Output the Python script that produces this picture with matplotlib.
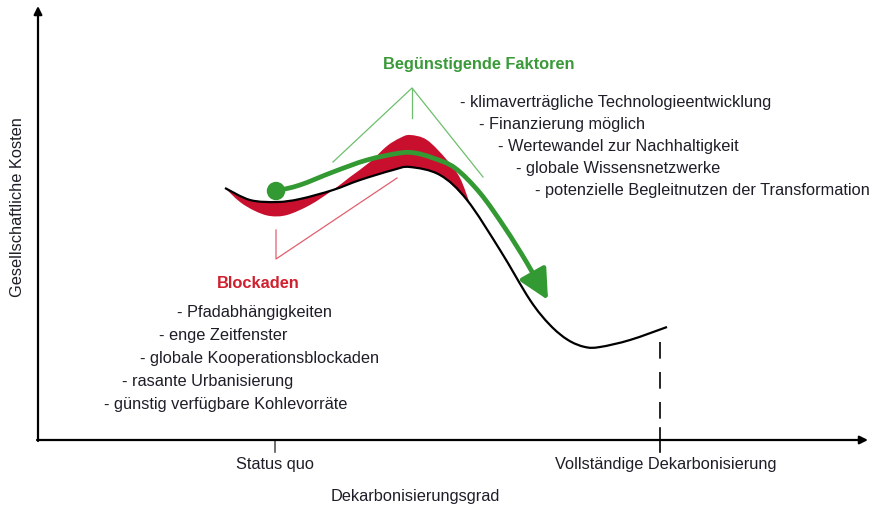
import matplotlib.pyplot as plt
import numpy as np
from matplotlib.path import Path
from matplotlib.patches import PathPatch, FancyArrowPatch, Circle

plt.rcParams["font.family"] = ["Liberation Sans", "DejaVu Sans"]

# schematic drawn in picture units (x to the right, y downwards)
origin = (38, 440)
x_end = 868
y_top = 6

# cost curve (black)
cost_x = [225, 250, 277, 300, 333, 360, 393, 410, 440, 467, 500, 530, 550, 568, 585, 600, 630, 667]
cost_y = [188, 200, 202, 199, 190, 180, 170, 167, 175, 200, 250, 300, 325, 340, 347, 347, 340, 327]

# outline of the red band (blockades below, bump above)
band_x = [225, 240, 255, 270, 287, 310, 333, 350, 370, 387, 400, 410, 427, 447, 460, 470]
band_y = [188, 202, 211, 216, 215, 205, 190, 177, 162, 146, 138, 135, 140, 160, 178, 204]

# green path
path_x = [276, 300, 333, 367, 400, 415, 433, 455, 480, 505, 527, 548]
path_y = [191, 185, 172, 160, 153, 153, 158, 168, 193, 228, 263, 300]

right_items = ["- klimaverträgliche Technologieentwicklung",
               "- Finanzierung möglich",
               "- Wertewandel zur Nachhaltigkeit",
               "- globale Wissensnetzwerke",
               "- potenzielle Begleitnutzen der Transformation"]
left_items = ["- Pfadabhängigkeiten",
              "- enge Zeitfenster",
              "- globale Kooperationsblockaden",
              "- rasante Urbanisierung",
              "- günstig verfügbare Kohlevorräte"]

status_quo_x = 275
full_decarb_x = 660


def bezier(xs, ys, first=Path.MOVETO):
    # smooth curve through the points (catmull-rom as cubic bezier)
    p = np.column_stack([xs, ys]).astype(float)
    verts, codes = [p[0]], [first]
    for i in range(len(p) - 1):
        p0 = p[i - 1] if i > 0 else p[i]
        p3 = p[i + 2] if i + 2 < len(p) else p[i + 1]
        verts += [p[i] + (p[i + 1] - p0) / 6, p[i + 1] - (p3 - p[i]) / 6, p[i + 1]]
        codes += [Path.CURVE4] * 3
    return verts, codes


fig = plt.figure(figsize=(8.72, 5.07), dpi=100)
ax = fig.add_axes([0, 0, 1, 1])
ax.set_xlim(0, 872)
ax.set_ylim(507, 0)
ax.axis("off")

# axes with arrows
ax.annotate("", xy=(x_end, origin[1]), xytext=(origin[0] - 1, origin[1]),
            arrowprops=dict(arrowstyle="-|>", lw=1.6, color="black", mutation_scale=12, shrinkA=0, shrinkB=0))
ax.annotate("", xy=(origin[0], y_top), xytext=(origin[0], origin[1] + 1),
            arrowprops=dict(arrowstyle="-|>", lw=1.6, color="black", mutation_scale=12, shrinkA=0, shrinkB=0))

# ticks
ax.plot([status_quo_x, status_quo_x], [origin[1], 452], color="#555555", lw=1.2)
ax.plot([full_decarb_x, full_decarb_x], [428, 452], color="black", lw=1.2)
ax.plot([full_decarb_x, full_decarb_x], [342, 428], color="black", lw=1.2, dashes=(10, 8))

# red band
v1, c1 = bezier(band_x, band_y)
n_sub = cost_x.index(467) + 1
v2, c2 = bezier(cost_x[:n_sub][::-1], cost_y[:n_sub][::-1], first=Path.LINETO)
band = Path(v1 + v2 + [v1[0]], c1 + c2 + [Path.CLOSEPOLY])
ax.add_patch(PathPatch(band, facecolor="#c8102e", edgecolor="none", zorder=2))

# black cost curve
v, c = bezier(cost_x, cost_y)
ax.add_patch(PathPatch(Path(v, c), facecolor="none", edgecolor="black", lw=1.6, zorder=3))

# green arrow
v, c = bezier(path_x, path_y)
ax.add_patch(FancyArrowPatch(path=Path(v, c), arrowstyle="-|>,head_length=0.9,head_width=0.45",
                             mutation_scale=20, color="#339933", lw=3.4, zorder=4))
ax.add_patch(Circle((path_x[0], path_y[0]), 8.5, color="#339933", zorder=5))

# connector lines
ax.plot([333, 412, 483], [162, 88, 177], color="#6cbf6c", lw=0.9, zorder=1)
ax.plot([412, 412], [88, 118], color="#6cbf6c", lw=0.9, zorder=1)
ax.plot([276, 276, 397], [230, 259, 178], color="#e0606e", lw=0.9, zorder=1)

# texts
fs = 11.8
txt = dict(fontsize=fs, color="#1e1e28", va="center")
ax.text(479, 65, "Begünstigende Faktoren", fontsize=fs, fontweight="bold", color="#3a9a3a",
        ha="center", va="center")
for i, s in enumerate(right_items):
    ax.text(460 + 18.8 * i, 103 + 22 * i, s, ha="left", **txt)

ax.text(258, 283, "Blockaden", fontsize=fs, fontweight="bold", color="#d0202e", ha="center", va="center")
for i, s in enumerate(left_items):
    ax.text(177 - 18.3 * i, 313 + 22.8 * i, s, ha="left", **txt)

ax.text(status_quo_x, 465, "Status quo", ha="center", **txt)
ax.text(666, 465, "Vollständige Dekarbonisierung", ha="center", **txt)
ax.text(415, 497, "Dekarbonisierungsgrad", ha="center", **txt)
ax.text(17, 207, "Gesellschaftliche Kosten", rotation=90, ha="center", **txt)

fig.savefig("out.png", dpi=100)
